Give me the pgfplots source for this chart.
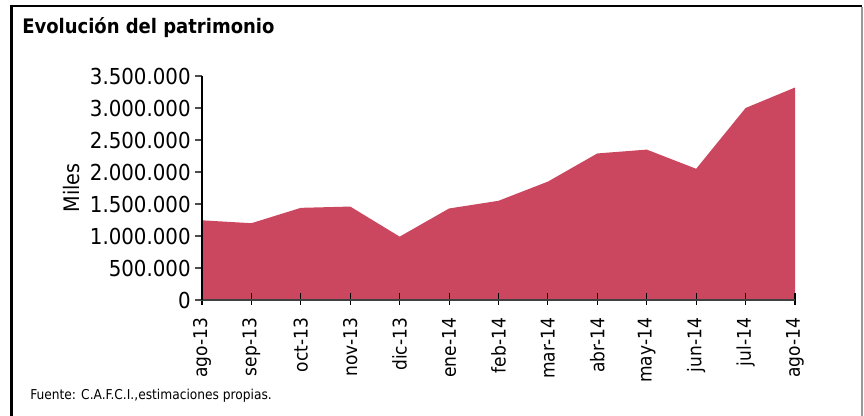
\documentclass[border=0pt]{standalone}
\usepackage{fontspec}
\setmainfont{DejaVu Sans Condensed}
\usepackage{pgfplots}
\pgfplotsset{compat=1.18}
\definecolor{areacol}{RGB}{203,71,96}
\begin{document}
\begin{tikzpicture}
\useasboundingbox (0,0) rectangle (648pt,-312pt);
\draw[line width=2.2pt,black] (7.4pt,-4.5pt) -- (646.5pt,-4.5pt);
\draw[line width=2.2pt,black] (8.3pt,-3.4pt) -- (8.3pt,-312pt);
\draw[line width=1.2pt,black!40] (646.5pt,-5.5pt) -- (646.5pt,-312pt);
\node[anchor=base west,inner sep=0pt,font=\bfseries\fontsize{15}{18}\selectfont] at (16.5pt,-25.5pt) {Evolución del patrimonio};
\node[anchor=base west,inner sep=0pt,font=\fontsize{10.2}{12}\selectfont] at (22.5pt,-300pt) {Fuente: C.A.F.C.I.,estimaciones propias.};
\begin{axis}[
  at={(151.5pt,-225pt)}, anchor=south west,
  scale only axis, width=444.75pt, height=168pt,
  xmin=0, xmax=12, ymin=0, ymax=3500000,
  axis x line=bottom, axis y line=left,
  axis line style={-},
  x axis line style={black!75, line width=0.9pt},
  y axis line style={black, line width=0.9pt},
  axis on top,
  tick align=outside, major tick length=5pt,
  xtick style={black, line width=0.8pt, /pgfplots/major tick length=9pt, yshift=5.25pt},
  ytick style={black!70, line width=0.8pt},
  xtick={0,1,2,3,4,5,6,7,8,9,10,11,12},
  xticklabels={ago-13,sep-13,oct-13,nov-13,dic-13,ene-14,feb-14,mar-14,abr-14,may-14,jun-14,jul-14,ago-14},
  ytick={0,500000,1000000,1500000,2000000,2500000,3000000,3500000},
  scaled y ticks=false,
  y tick label style={font=\fontsize{16.5}{19}\selectfont, /pgf/number format/fixed, /pgf/number format/1000 sep={.}, /pgf/number format/assume math mode=true},
  x tick label style={font=\fontsize{14.2}{17}\selectfont, rotate=90, anchor=east, xshift=-5pt},
  ylabel={Miles},
  ylabel style={font=\fontsize{16}{19}\selectfont, at={(rel axis cs:0,0.5)}, anchor=south, yshift=88pt},
]
\addplot[fill=areacol, draw=none] coordinates {
(0,1245000) (1,1200000) (2,1440000) (3,1460000) (4,990000) (5,1430000)
(6,1550000) (7,1850000) (8,2290000) (9,2350000) (10,2050000) (11,3000000) (12,3320000)
} \closedcycle;
\end{axis}
\end{tikzpicture}
\end{document}
